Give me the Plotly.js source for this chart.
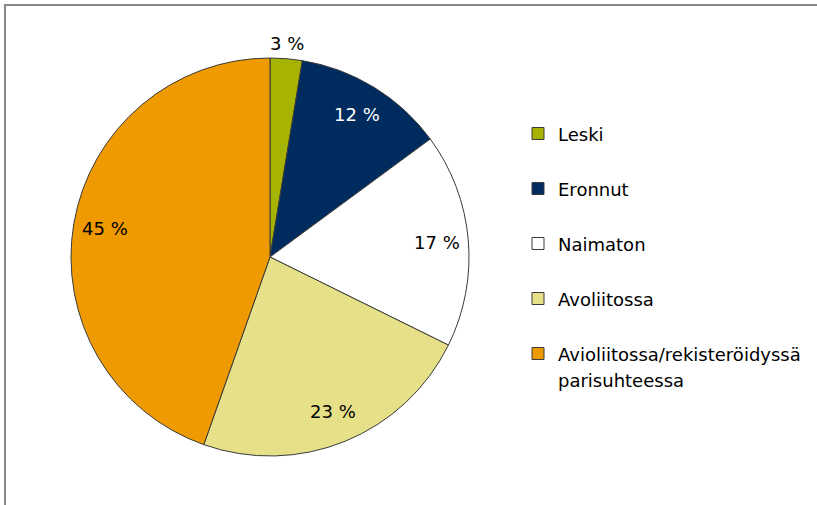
<!DOCTYPE html>
<html>
<head>
<meta charset="utf-8">
<script src="https://cdn.plot.ly/plotly-3.0.1.min.js"></script>
<style>html,body{margin:0;padding:0;background:#fff;}#chart{width:817px;height:505px;}</style>
</head>
<body>
<div id="chart"></div>
<script>
// ---- data ----
const categories = ["Leski", "Eronnut", "Naimaton", "Avoliitossa", "Avioliitossa/rekisteröidyssä\nparisuhteessa"];
const shares = [2.6, 12.3, 17.4, 23.1, 44.6];
const sliceColors = ["#a6b300", "#002b5e", "#ffffff", "#e6e189", "#ee9a00"];
const labelColors = ["#000000", "#ffffff", "#000000", "#000000", "#000000"];

// ---- layout constants ----
const W = 817, H = 505;
const dom = {x: [71 / W, 469 / W], y: [1 - 456 / H, 1 - 58 / H]};
const FONT = "DejaVu Sans, Verdana, sans-serif";

// legend text: each entry occupies two lines for spacing
const legendText = categories.map(c => {
  const lines = c.split("\n").map(s => '<span style="font-size:18px">' + s + '</span>');
  if (lines.length === 1) lines.push("&nbsp;");
  return lines.join("<br>");
});

// data labels, positioned from cumulative angles of the values
const total = shares.reduce((a, b) => a + b, 0);
const cx = (dom.x[0] + dom.x[1]) / 2 * W;
const cy = (1 - (dom.y[0] + dom.y[1]) / 2) * H;
const R = Math.min((dom.x[1] - dom.x[0]) * W, (dom.y[1] - dom.y[0]) * H) / 2;
let cum = 0;
const annotations = shares.map((v, i) => {
  const mid = (cum + v / 2) / total * 2 * Math.PI;
  cum += v;
  const f = i === 0 ? 1.075 : 0.84;
  const px = cx + f * R * Math.sin(mid);
  const py = cy - f * R * Math.cos(mid);
  return {
    xref: "paper", yref: "paper", x: px / W, y: 1 - py / H,
    text: Math.round(v / total * 100) + " %", showarrow: false,
    xanchor: "center", yanchor: "middle",
    font: {family: FONT, size: 18, color: labelColors[i]}
  };
});

const trace = {
  type: "pie",
  labels: legendText,
  values: shares,
  sort: false,
  direction: "clockwise",
  rotation: 0,
  domain: dom,
  marker: {colors: sliceColors, line: {color: "#3a3a3a", width: 1}},
  textinfo: "none",
  hoverinfo: "none"
};

const layout = {
  width: W, height: H,
  margin: {l: 0, r: 0, t: 0, b: 0},
  paper_bgcolor: "#ffffff",
  font: {family: FONT, size: 18, color: "#000"},
  showlegend: true,
  legend: {
    x: 518 / W, y: 1 - 114 / H, xanchor: "left", yanchor: "top",
    font: {family: FONT, size: 20, color: "#000"},
    valign: "top", bgcolor: "rgba(0,0,0,0)"
  },
  annotations: annotations,
  shapes: [{
    type: "rect", xref: "paper", yref: "paper",
    x0: 5 / W, x1: 1.02, y0: -0.02, y1: 1 - 5 / H,
    line: {color: "#878787", width: 2}, fillcolor: "rgba(0,0,0,0)"
  }]
};

Plotly.newPlot("chart", [trace], layout, {staticPlot: true});
</script>
</body>
</html>
